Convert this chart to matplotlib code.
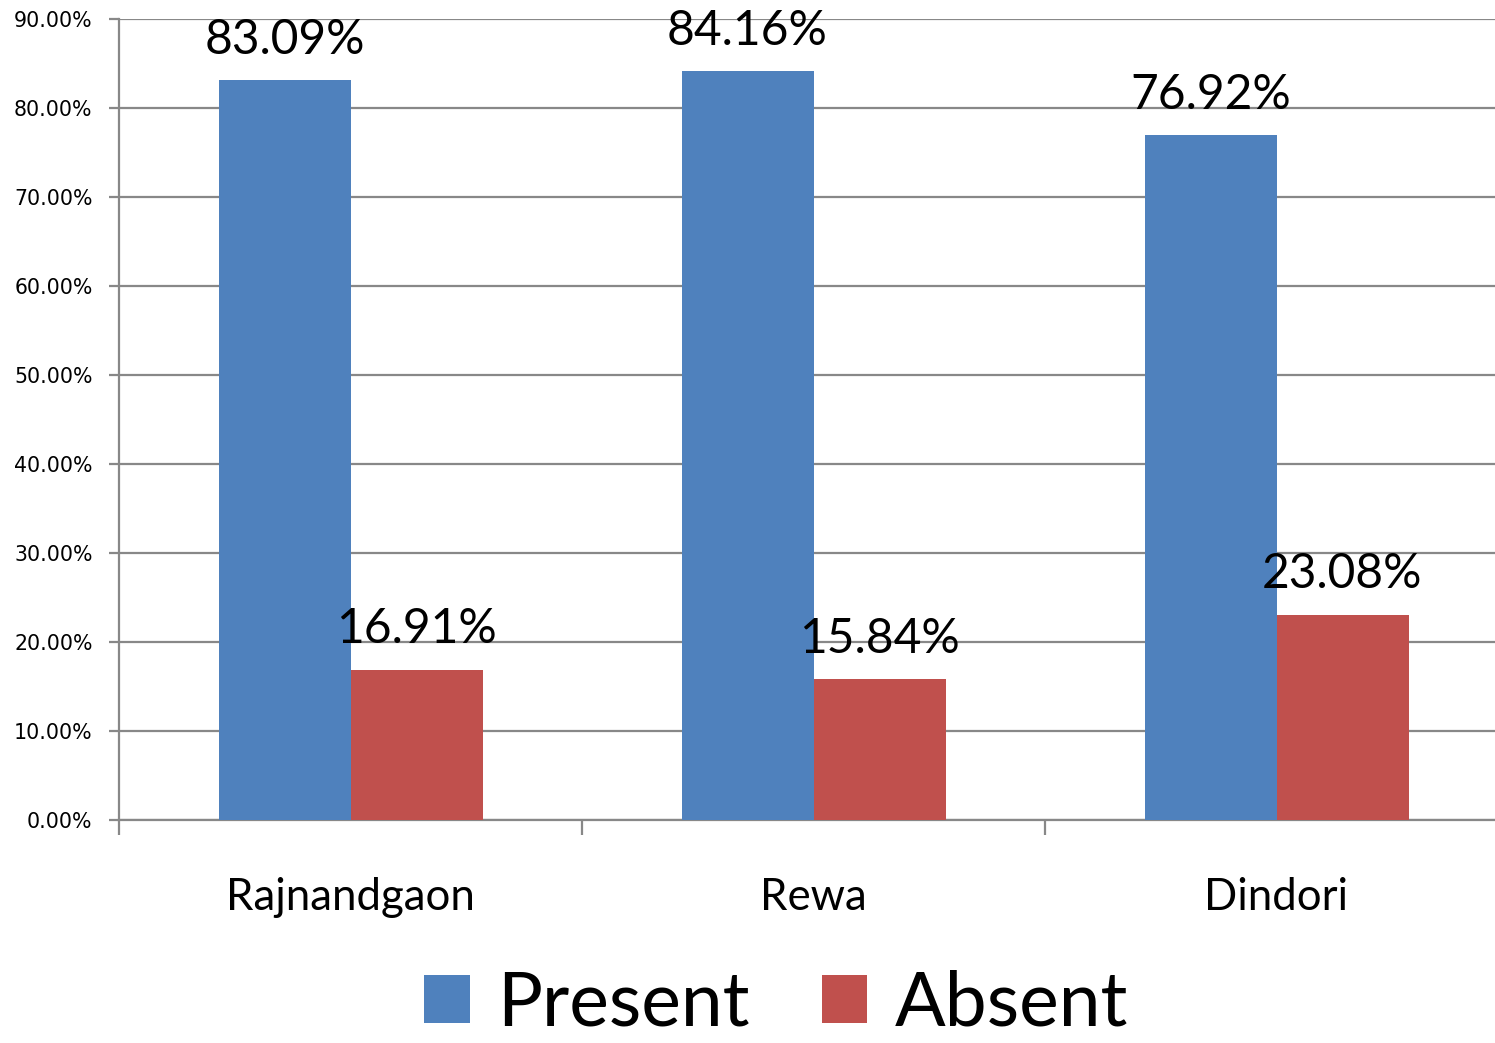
import matplotlib
matplotlib.use("Agg")
import matplotlib.pyplot as plt
import numpy as np
from matplotlib.ticker import FuncFormatter, FixedLocator

districts = ["Rajnandgaon", "Rewa", "Dindori"]
present = [83.09, 84.16, 76.92]
absent = [16.91, 15.84, 23.08]
series_names = ["Present", "Absent"]
colors = ["#4F81BD", "#C0504D"]

W, H = 1495, 1043
fig = plt.figure(figsize=(W / 100, H / 100), dpi=100)
ax = fig.add_axes([119 / W, (H - 820) / H, (W - 119) / W, 801 / H])

x = np.arange(len(districts))
bw = 132 / 463
grid_c = "#888888"

bars_p = ax.bar(x - bw / 2, present, width=bw, color=colors[0], label=series_names[0], zorder=3)
bars_a = ax.bar(x + bw / 2, absent, width=bw, color=colors[1], label=series_names[1], zorder=3)

lab_font = "Lato"
for bars, vals in ((bars_p, present), (bars_a, absent)):
    for b, v in zip(bars, vals):
        ax.annotate(f"{v:.2f}%", (b.get_x() + b.get_width() / 2, v),
                    xytext=(0, 19), textcoords="offset points",
                    ha="center", va="baseline", fontsize=34.5, family=lab_font, zorder=4)

ax.set_ylim(0, 90)
ax.set_xlim(-0.5, (W - 119) / 463 - 0.5)
ax.set_yticks(np.arange(0, 91, 10))
ax.yaxis.set_major_formatter(FuncFormatter(lambda v, p: f"{v:.2f}%"))
ax.grid(axis="y", color=grid_c, linewidth=1.6, zorder=0)
ax.set_axisbelow(True)

ax.set_xticks(x)
ax.set_xticklabels(districts, family=lab_font, fontsize=31.5)
ax.xaxis.set_minor_locator(FixedLocator([-0.5, 0.5, 1.5, 2.5]))
ax.tick_params(axis="x", which="major", length=0, pad=41)
ax.tick_params(axis="x", which="minor", length=11, width=1.6, color=grid_c)
ax.tick_params(axis="y", length=7, width=1.6, color=grid_c, pad=12, labelsize=14.8)
for lbl in ax.get_yticklabels():
    lbl.set_family("DejaVu Sans")

for s in ("top", "right"):
    ax.spines[s].set_visible(False)
for s in ("left", "bottom"):
    ax.spines[s].set_color(grid_c)
    ax.spines[s].set_linewidth(1.6)

fig.legend(handles=[bars_p, bars_a], labels=series_names, loc="center",
           bbox_to_anchor=(776 / W, (H - 1004) / H), ncol=2, frameon=False,
           prop={"family": lab_font, "size": 54},
           handlelength=0.61, handleheight=0.61, handletextpad=0.36,
           columnspacing=0.96, borderaxespad=0, borderpad=0)

fig.savefig("out.png", dpi=100)
